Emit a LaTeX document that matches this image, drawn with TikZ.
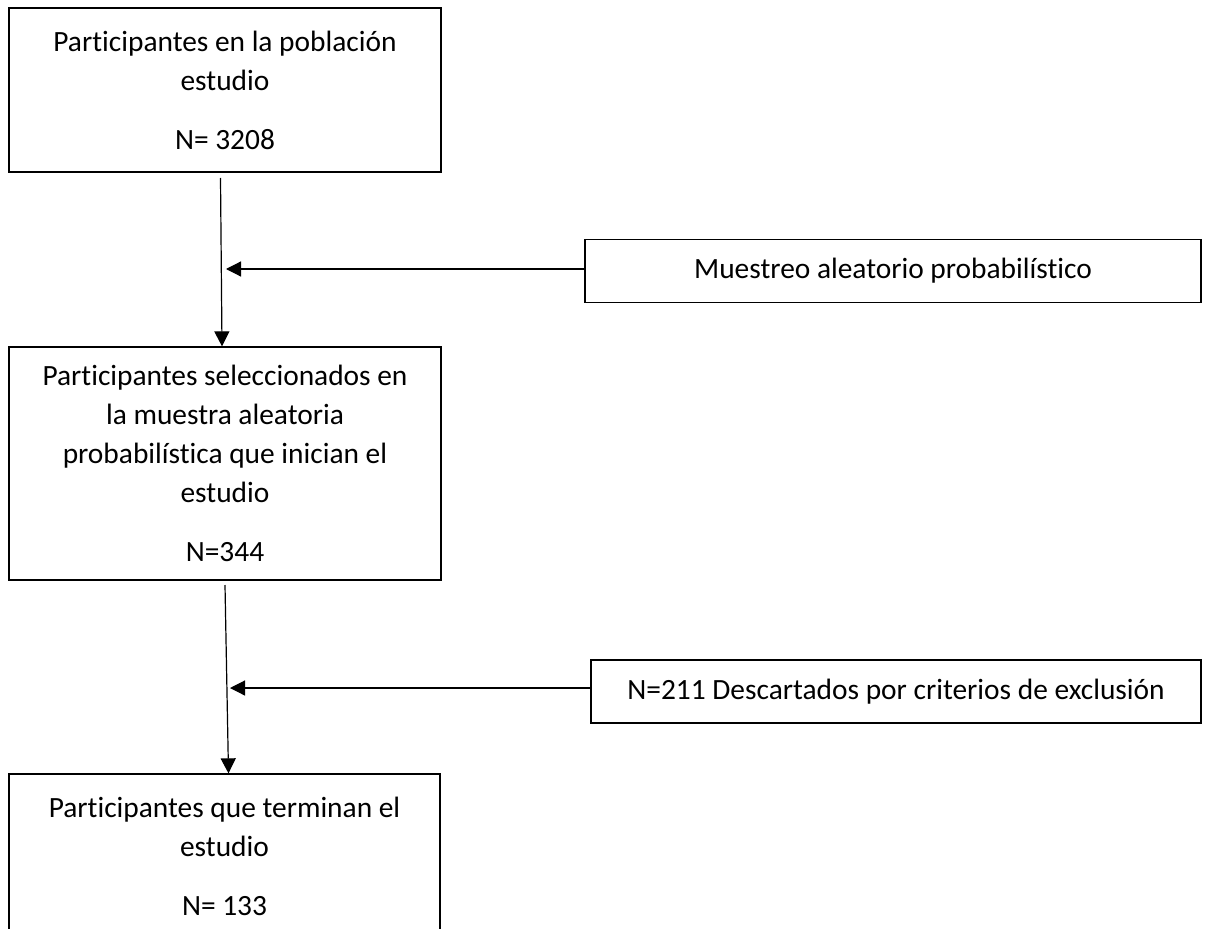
\documentclass[tikz,border=0pt]{standalone}
\usepackage{fontspec}
\setmainfont{Carlito}[Ligatures=NoCommon]
\usetikzlibrary{arrows.meta, positioning, calc}

\begin{document}
\begin{tikzpicture}[x=1pt, y=-1pt,
    caja/.style={draw, line width=1.3pt, align=center, inner sep=0pt,
        font=\fontsize{29.4}{39}\selectfont},
    flecha/.style={line width=1.2pt, -{Triangle[length=15pt, width=15pt]}}]
    % Fix the page size
    \path[use as bounding box, clip] (0,0) rectangle (1214,928);

    % Draw the main boxes
    \node[caja, minimum width=432, minimum height=164] (poblacion) at (225,90)
        {Participantes en la población\\estudio\\[20pt]N= 3208};
    \node[caja, minimum width=432, minimum height=233] (muestra) at (225,463.5)
        {Participantes seleccionados en\\la muestra aleatoria\\probabilística que inician el\\estudio\\[20pt]N=344};
    \node[caja, minimum width=431, minimum height=164] (final) at (224.5,856)
        {Participantes que terminan el\\estudio\\[20pt]N= 133};

    % Draw the side boxes
    \node[caja, minimum width=616, minimum height=63] (muestreo) at (893,271)
        {Muestreo aleatorio probabilístico};
    \node[caja, minimum width=610, minimum height=63] (descarte) at (896,691.5)
        {N=211 Descartados por criterios de exclusión};

    % Draw the arrows
    \coordinate (s1) at (220.5,178);
    \coordinate (j1) at (226,269);
    \coordinate (s2) at (225,585);
    \coordinate (j2) at (230,688);
    \draw[flecha] (s1) -- ([xshift=-3pt]muestra.north);
    \draw[flecha] (muestreo.west |- j1) -- (j1);
    \draw[flecha] (s2) -- ([xshift=4pt]final.north);
    \draw[flecha] (descarte.west |- j2) -- (j2);
\end{tikzpicture}
\end{document}
